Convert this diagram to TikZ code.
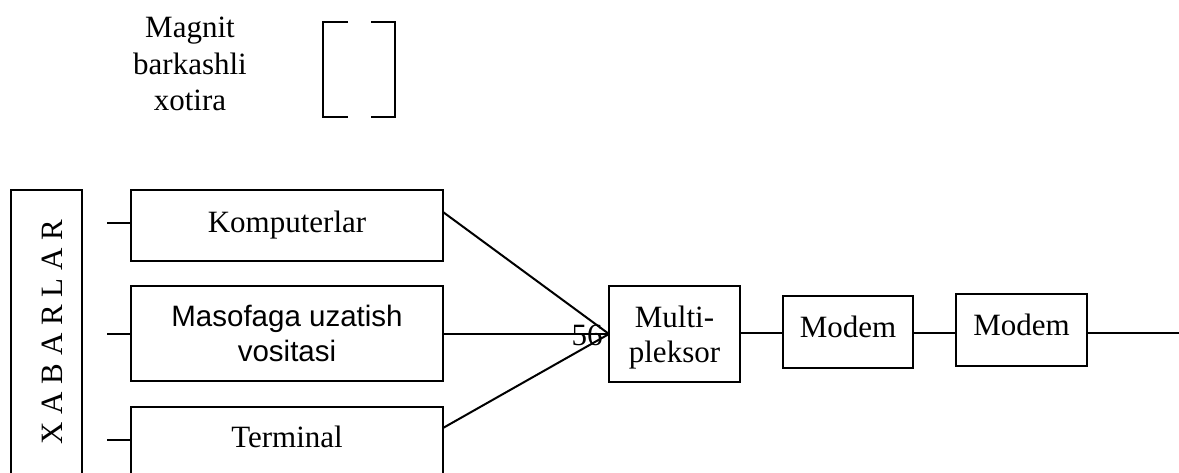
\documentclass[tikz,border=0pt]{standalone}
\usepackage{fontspec}
\setmainfont{Liberation Serif}
\newfontfamily\arialfont{Liberation Sans}
\usetikzlibrary{calc}

\begin{document}
\begin{tikzpicture}[x=1pt, y=-1pt,
  every node/.style={inner sep=0pt, outer sep=0pt},
  blk/.style={draw, line width=2pt, align=center,
    font=\fontsize{31}{35}\selectfont},
  wire/.style={line width=2pt}]
\useasboundingbox (0,0) rectangle (1179,472);
\clip (0,0) rectangle (1179,472);

% magnetic tape storage
\node[align=center, font=\fontsize{31}{36.5}\selectfont, text depth=0pt]
  (memtxt) at (190,64) {Magnit\\barkashli\\xotira};
\node[minimum width=72pt, minimum height=95pt] (mem) at (359,69.5) {};
\draw[wire] ($(mem.north west)+(25,0)$) -| (mem.south west) -- ++(25,0);
\draw[wire] ($(mem.north east)+(-24,0)$) -| (mem.south east) -- ++(-24,0);

% message sources
\node[blk, rotate=90, minimum width=284pt, minimum height=71pt,
  text height=31pt, text depth=0pt]
  (xab) at (46.5,332) {X A B A R L A R};

\node[blk, minimum width=312pt, minimum height=71pt] (komp) at (287,225.5) {Komputerlar};
\node[blk, minimum width=312pt, minimum height=95pt,
  font=\arialfont\fontsize{29.5}{35}\selectfont, text depth=0pt]
  (masof) at (287,333.5) {Masofaga uzatish\\vositasi};
\node[blk, minimum width=312pt, minimum height=83pt,
  text height=21pt, text depth=24pt] (term) at (287,448.5) {Terminal};

% feeders on the left
\draw[wire] ($(komp.north west)+(0,33)$) -- ++(-24,0);
\draw[wire] ($(masof.west)+(0,0.5)$) -- ++(-24,0);
\draw[wire] ($(term.north west)+(0,33)$) -- ++(-24,0);

% channel chain
\node[blk, minimum width=131pt, minimum height=96pt, text depth=0pt]
  (mux) at (674.5,334) {Multi-\\pleksor};
\node[blk, minimum width=130pt, minimum height=72pt, text depth=11pt]
  (mod1) at (848,332) {Modem};
\node[blk, minimum width=131pt, minimum height=72pt, text depth=11pt]
  (mod2) at (1021.5,330) {Modem};
\coordinate (out) at (1179,333);

\draw[wire] ($(komp.north east)+(0,22)$) -- (mux.west);
\draw[wire] ($(masof.east)+(0,0.5)$) -- (mux.west);
\draw[wire] ($(term.north east)+(0,21)$) -- (mux.west);
\node[anchor=base, font=\fontsize{31}{35}\selectfont] (n56) at (587,345) {56};

\draw[wire] ($(mux.east)+(0,-1)$) -- ($(mux.east -| mod1.west)+(0,-1)$);
\draw[wire] ($(mod1.east)+(0,1)$) -- ($(mod2.west)+(0,3)$);
\draw[wire] ($(mod2.east)+(0,3)$) -- (out);
\end{tikzpicture}
\end{document}
